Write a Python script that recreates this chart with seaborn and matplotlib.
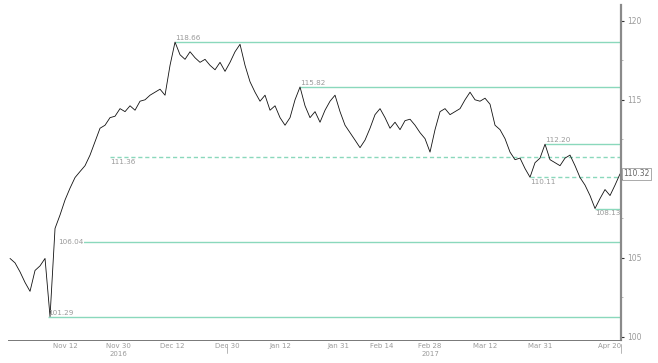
import matplotlib
matplotlib.use("Agg")
import numpy as np
import pandas as pd
import matplotlib.pyplot as plt
import matplotlib.transforms as mtransforms
import seaborn as sns


# ── daily closes, late Oct 2016 -> Apr 2017 ──────────────────────────────────
closes = [
    104.97, 104.69, 104.12, 103.45, 102.89, 104.21, 104.50, 104.97, 101.29, 106.87,
    107.72, 108.67, 109.42, 110.09, 110.47, 110.84, 111.51, 112.36, 113.21, 113.40,
    113.88, 113.97, 114.45, 114.26, 114.63, 114.35, 114.92, 115.01, 115.30, 115.49,
    115.68, 115.30, 117.19, 118.66, 117.86, 117.57, 118.05, 117.67, 117.38, 117.57,
    117.19, 116.91, 117.38, 116.81, 117.38, 118.05, 118.52, 117.19, 116.15, 115.49,
    114.92, 115.30, 114.35, 114.63, 113.88, 113.40, 113.88, 115.01, 115.82, 114.63,
    113.88, 114.26, 113.59, 114.35, 114.92, 115.30, 114.26, 113.40, 112.93, 112.46,
    111.98, 112.46, 113.21, 114.07, 114.45, 113.88, 113.21, 113.59, 113.12, 113.69,
    113.78, 113.40, 112.93, 112.55, 111.70, 113.12, 114.26, 114.45, 114.07, 114.26,
    114.45, 115.01, 115.49, 115.01, 114.92, 115.11, 114.73, 113.40, 113.12, 112.55,
    111.70, 111.22, 111.32, 110.66, 110.11, 111.03, 111.32, 112.20, 111.22, 111.03,
    110.84, 111.32, 111.51, 110.84, 110.09, 109.61, 108.95, 108.13, 108.76, 109.33,
    108.95, 109.61, 110.32,
]

# support / resistance levels: value, bar where it starts, dashed?, label side
level_values = [118.66, 115.82, 112.20, 111.36, 110.11, 108.13, 106.04, 101.29]
level_start  = [33, 58, 107, 20, 104, 117.0, 9.6, 7.6]
level_dashed = [False, False, False, True, True, False, False, False]
level_side   = ["above", "above", "above", "below", "below", "below", "on", "above"]

# date axis labels
date_labels   = ["Nov 12", "Nov 30", "Dec 12", "Dec 30", "Jan 12", "Jan 31",
                 "Feb 14", "Feb 28", "Mar 12", "Mar 31", "Apr 20"]
date_label_at = [11, 21.6, 32.4, 43.4, 54, 65.6, 74.4, 84, 95, 106, 120]
date_ticks_at = [0.4, 6.2, 16, 27.6, 38.4, 49, 58.6, 69.6, 79.4, 90, 101, 112]
year_labels   = ["2016", "2017"]
year_label_at = [21.6, 84]

price_ticks = [100, 105, 110, 115, 120]
last_price = closes[-1]

LEVEL_COLOR = "#8ad8bc"
TEXT_COLOR = "#9a9a9a"

df = pd.DataFrame({"bar": np.arange(len(closes)), "close": closes})

sns.set_style("white")
plt.rcParams["font.family"] = ["DejaVu Sans"]

fig = plt.figure(figsize=(6.58, 3.63), dpi=100)
ax = fig.add_axes([0.0122, 0.0634, 0.9316, 0.9229])

sns.lineplot(data=df, x="bar", y="close", ax=ax, color="#111", linewidth=0.6)

# ── level lines + labels ─────────────────────────────────────────────────────
x_right = len(closes) - 1 + 0.2
for v, s, dashed, side in zip(level_values, level_start, level_dashed, level_side):
    ax.hlines(v, s, x_right, color=LEVEL_COLOR, linewidth=1.0,
              linestyle=(0, (3, 2)) if dashed else "-", zorder=1)
    va = {"above": "bottom", "below": "top", "on": "center"}[side]
    off = {"above": 0.05, "below": -0.1, "on": 0.0}[side]
    ax.text(s, v + off, f"{v:.2f}", fontsize=5.2, color=TEXT_COLOR, va=va,
            ha="left", bbox=dict(fc="white", ec="none", pad=0.2) if side == "on" else None)

# ── right price axis ─────────────────────────────────────────────────────────
ax.yaxis.tick_right()
ax.set_yticks(price_ticks)
# the 110 label sits under the last-price box, so it stays blank
ax.set_yticklabels(["" if t == 110 else str(t) for t in price_ticks])
ax.set_yticks(np.arange(97.5, 122.6, 2.5), minor=True)
ax.tick_params(axis="y", which="major", length=2.5, width=0.8, color="#333",
               labelsize=5.5, labelcolor=TEXT_COLOR, pad=2)
ax.tick_params(axis="y", which="minor", length=1.5, width=0.5, color="#999")

# ── bottom date axis ─────────────────────────────────────────────────────────
ax.set_xticks(date_label_at)
ax.set_xticklabels(date_labels)
ax.set_xticks(date_ticks_at, minor=True)
ax.tick_params(axis="x", which="major", length=0, labelsize=5,
               labelcolor=TEXT_COLOR, pad=2)
ax.tick_params(axis="x", which="minor", length=2, width=0.6, color="#666",
               direction="in")
ax.set_xlabel("")
ax.set_ylabel("")

# limits after the ticks, so set_yticks cannot widen them
ax.set_xlim(-0.4, x_right)
ax.set_ylim(99.81, 121.01)

trans = mtransforms.blended_transform_factory(ax.transData, ax.transAxes)
for lab, pos in zip(year_labels, year_label_at):
    ax.text(pos, -0.032, lab, transform=trans, fontsize=5, color=TEXT_COLOR,
            ha="center", va="top")
# year break + last bar markers under the axis
for pos in [43.4, x_right]:
    ax.plot([pos, pos], [-0.012, -0.04], transform=trans, color="#aaa",
            linewidth=0.6, clip_on=False)

for side in ["top", "left"]:
    ax.spines[side].set_visible(False)
ax.spines["right"].set_color("#8a8a8a")
ax.spines["right"].set_linewidth(1.6)
ax.spines["bottom"].set_color("#777")
ax.spines["bottom"].set_linewidth(0.7)

# current price box
ytrans = mtransforms.blended_transform_factory(ax.transAxes, ax.transData)
ax.text(1.004, last_price, f"{last_price:.2f}", transform=ytrans, fontsize=5.5,
        color="#666", va="center", ha="left", zorder=5, clip_on=False,
        bbox=dict(boxstyle="square,pad=0.15", fc="white", ec="#888", lw=0.5))

fig.savefig("out.png", dpi=100)
